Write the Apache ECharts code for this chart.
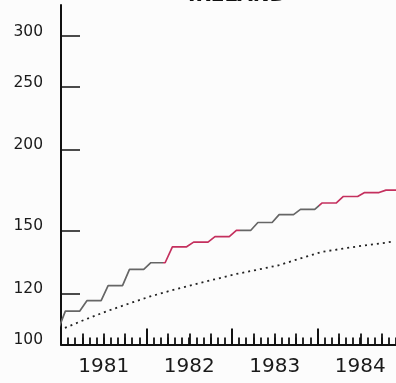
<!DOCTYPE html>
<html>
<head>
<meta charset="utf-8">
<script src="https://cdn.jsdelivr.net/npm/echarts@6/dist/echarts.min.js"></script>
<style>
html,body{margin:0;padding:0;background:#fcfcfc;}
#chart{width:396px;height:383px;}
</style>
</head>
<body>
<div id="chart"></div>
<script>
// ---- Data ----
const title = 'IRELAND';
const yTickValues = [100, 120, 150, 200, 250, 300];

// Consumer price index, monthly (stepped, quarterly updates)
const cpiDates = [
  '1980-12-20',
  '1981-01-20','1981-02-20','1981-03-20','1981-04-20','1981-05-20','1981-06-20',
  '1981-07-20','1981-08-20','1981-09-20','1981-10-20','1981-11-20','1981-12-20',
  '1982-01-20','1982-02-20','1982-03-20','1982-04-20','1982-05-20','1982-06-20',
  '1982-07-20','1982-08-20','1982-09-20','1982-10-20','1982-11-20','1982-12-20',
  '1983-01-20','1983-02-20','1983-03-20','1983-04-20','1983-05-20','1983-06-20',
  '1983-07-20','1983-08-20','1983-09-20','1983-10-20','1983-11-20','1983-12-20',
  '1984-01-20','1984-02-20','1984-03-20','1984-04-20','1984-05-20','1984-06-20',
  '1984-07-20','1984-08-20','1984-09-20','1984-10-20','1984-11-20','1984-12-20'
];
const cpiValues = [
  105.5,
  112.6, 112.6, 112.6, 116.9, 116.9, 116.9,
  123.3, 123.3, 123.3, 130.7, 130.7, 130.7,
  133.8, 133.8, 133.8, 141.6, 141.6, 141.6,
  144.0, 144.0, 144.0, 146.8, 146.8, 146.8,
  150.1, 150.1, 150.1, 154.4, 154.4, 154.4,
  158.8, 158.8, 158.8, 161.8, 161.8, 161.8,
  165.5, 165.5, 165.5, 169.4, 169.4, 169.4,
  171.8, 171.8, 171.8, 173.3, 173.3, 173.3
];

// Dotted comparison line
const refDates = [
  '1981-01-18','1981-04-18','1981-07-18','1981-10-18',
  '1982-01-18','1982-04-18','1982-07-18','1982-10-18',
  '1983-01-18','1983-04-18','1983-07-18','1983-10-18',
  '1984-01-18','1984-04-18','1984-07-18','1984-10-18','1984-11-18'
];
const refValues = [
  106.1, 109.5, 112.7, 115.7,
  118.7, 121.3, 123.7, 126.1,
  128.5, 130.5, 132.6, 135.8,
  139.0, 140.7, 142.3, 143.7, 144.3
];

// Colour periods of the solid line (decimal years)
const redPeriods = [[1982.19, 1983.09], [1984.02, 1990]];

// ---- Helpers ----
function toYear(s) {
  const p = s.split('-').map(Number);
  const dim = new Date(p[0], p[1], 0).getDate();
  return p[0] + (p[1] - 1 + (p[2] - 1) / dim) / 12;
}
const cpiData = cpiDates.map((d, i) => [toYear(d), cpiValues[i]]);
const refData = refDates.map((d, i) => [toYear(d), refValues[i]]);

const RED = '#c4305e', GRAY = '#666666', INK = '#111111';
const FONT = 'DejaVu Sans';

const pieces = [];
let prev = -Infinity;
redPeriods.forEach(([a, b]) => {
  pieces.push({ gte: prev, lt: a, color: GRAY });
  pieces.push({ gte: a, lt: b, color: RED });
  prev = b;
});
pieces.push({ gte: prev, color: GRAY });

function tickAxis(interval, len, w, opts) {
  return Object.assign({
    type: 'value', position: 'bottom', offset: 0, min: 1981, max: 1985, interval: interval,
    axisLine: { show: false, onZero: false },
    axisTick: { show: true, inside: true, length: len, lineStyle: { color: INK, width: w } },
    axisLabel: { show: false },
    splitLine: { show: false }
  }, opts || {});
}

const chart = echarts.init(document.getElementById('chart'), null, { renderer: 'canvas' });
chart.setOption({
  animation: false,
  backgroundColor: '#fcfcfc',
  title: {
    text: title, left: 183, top: -19,
    textStyle: { fontFamily: FONT, fontWeight: 'bold', fontSize: 20, color: INK }
  },
  grid: { left: 61, right: -7, top: 5, bottom: 38.5, outerBoundsMode: 'none', containLabel: false },
  xAxis: [
    tickAxis(1 / 12, 7, 1.8, { axisLine: { show: true, onZero: false, lineStyle: { color: INK, width: 2.2 } } }),
    tickAxis(0.25, 11, 1.8),
    tickAxis(1, 16, 2),
    tickAxis(0.5, 0, 1, {
      axisTick: { show: false },
      axisLabel: {
        show: true, margin: 12, fontFamily: FONT, fontSize: 20, color: '#1a1a1a',
        formatter: function (v) {
          const f = v - Math.floor(v);
          return Math.abs(f - 0.5) < 0.01 ? String(Math.floor(v)) : '';
        }
      }
    })
  ],
  yAxis: {
    type: 'log', logBase: 10, min: 100, max: 335,
    axisLine: { show: true, lineStyle: { color: INK, width: 2 } },
    axisTick: { show: true, inside: true, length: 19, customValues: yTickValues, lineStyle: { color: INK, width: 1.5 } },
    axisLabel: {
      customValues: yTickValues, margin: 18, verticalAlign: 'middle',
      formatter: function (v) { return '{t|' + Math.round(v) + '}\n{s|}'; },
      rich: {
        t: { fontFamily: FONT, fontSize: 15.5, color: '#1a1a1a', lineHeight: 18 },
        s: { fontSize: 1, lineHeight: 9, height: 9 }
      }
    },
    splitLine: { show: false }
  },
  visualMap: {
    type: 'piecewise', show: false, seriesIndex: 0, dimension: 0, pieces: pieces
  },
  series: [
    {
      type: 'line', xAxisIndex: 0, data: cpiData, showSymbol: false, clip: true,
      lineStyle: { width: 1.7 }
    },
    {
      type: 'line', xAxisIndex: 0, data: refData, showSymbol: false, clip: true,
      lineStyle: { width: 1.8, color: '#222', type: [2, 4] }
    }
  ]
});
</script>
</body>
</html>
